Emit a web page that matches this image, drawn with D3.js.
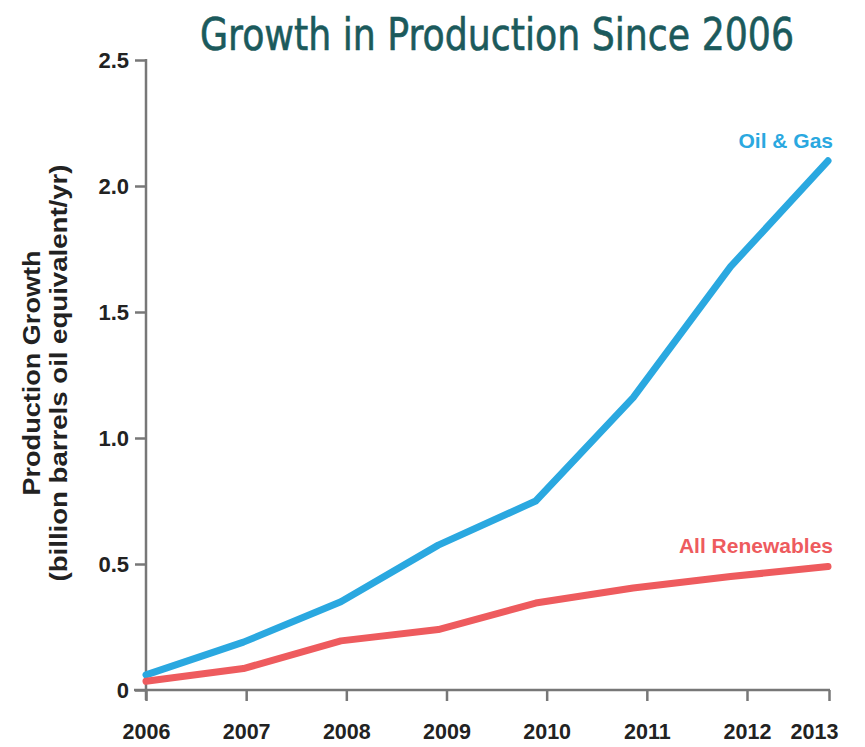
<!DOCTYPE html>
<html>
<head>
<meta charset="utf-8">
<script src="https://cdn.jsdelivr.net/npm/d3@7/dist/d3.min.js"></script>
<style>
  html, body { margin: 0; padding: 0; background: #fff; }
  svg { display: block; }
</style>
</head>
<body>
<svg id="chart" width="865" height="747"></svg>
<script>
const years = [2006, 2007, 2008, 2009, 2010, 2011, 2012, 2013];
const oilGas = [0.06, 0.19, 0.35, 0.575, 0.75, 1.16, 1.68, 2.10];
const renewables = [0.035, 0.085, 0.195, 0.24, 0.345, 0.405, 0.45, 0.49];
const yTicks = [0, 0.5, 1.0, 1.5, 2.0, 2.5];
const yTickLabels = ["0", "0.5", "1.0", "1.5", "2.0", "2.5"];
const titleText = "Growth in Production Since 2006";
const yTitle = ["Production Growth", "(billion barrels oil equivalent/yr)"];
const seriesNames = ["Oil & Gas", "All Renewables"];

const svg = d3.select("#chart");
const font = "'Liberation Sans', Arial, Helvetica, sans-serif";

// data x scale (uniform spacing) and axis tick scale (as drawn in the reference)
const xData = d3.scaleLinear().domain([2006, 2013]).range([146, 828]);
const xAxisScale = d3.scaleLinear().domain([2006, 2012, 2013]).range([146, 747, 829]);
const y = d3.scaleLinear().domain([0, 2.5]).range([690, 60]);

// Title
svg.append("text")
  .attr("x", 497).attr("y", 50)
  .attr("text-anchor", "middle")
  .attr("font-family", "'DejaVu Sans Condensed', 'Liberation Sans Narrow', sans-serif")
  .attr("font-size", 45)
  .attr("fill", "#1b5a5c")
  .attr("stroke", "#1b5a5c").attr("stroke-width", 0.6)
  .attr("textLength", 594)
  .attr("lengthAdjust", "spacingAndGlyphs")
  .text(titleText);

const axisColor = "#777";

// Y axis
const yAxis = svg.append("g")
  .attr("transform", "translate(146,0)")
  .call(d3.axisLeft(y).tickValues(yTicks).tickSize(11).tickSizeOuter(0).tickPadding(6)
    .tickFormat((d, i) => yTickLabels[i]));
yAxis.select(".domain").attr("stroke", axisColor).attr("stroke-width", 2.5)
  .attr("d", "M0,59V700");
yAxis.selectAll(".tick line").attr("stroke", axisColor).attr("stroke-width", 2.5);
yAxis.selectAll(".tick text")
  .attr("font-family", font).attr("font-weight", "bold")
  .attr("font-size", 22).attr("fill", "#222");

// X axis
const xAxis = svg.append("g")
  .attr("transform", "translate(0,690)")
  .call(d3.axisBottom(xAxisScale).tickValues(years).tickSize(11).tickSizeOuter(0).tickPadding(23)
    .tickFormat(d3.format("d")));
xAxis.select(".domain").attr("stroke", axisColor).attr("stroke-width", 2.5)
  .attr("d", "M134,0H830");
xAxis.selectAll(".tick line").attr("stroke", axisColor).attr("stroke-width", 2.5);
xAxis.selectAll(".tick text")
  .attr("font-family", font).attr("font-weight", "bold")
  .attr("font-size", 21.5).attr("fill", "#222");
xAxis.selectAll(".tick").filter(d => d === 2013).select("text").attr("dx", -15);

// Y axis title (two lines, rotated)
const yTitleLayout = [
  { text: yTitle[0], baseline: 40, length: 245 },
  { text: yTitle[1], baseline: 67, length: 417 }
];
yTitleLayout.forEach(l => {
  svg.append("text")
    .attr("transform", `translate(${l.baseline},373) rotate(-90)`)
    .attr("x", 0).attr("y", 0)
    .attr("text-anchor", "middle")
    .attr("font-family", font).attr("font-weight", "bold")
    .attr("font-size", 24).attr("fill", "#222")
    .attr("textLength", l.length)
    .attr("lengthAdjust", "spacingAndGlyphs")
    .text(l.text);
});

// Lines
const line = d3.line()
  .x((d, i) => xData(years[i]))
  .y(d => y(d))
  .curve(d3.curveLinear);

const series = [
  { name: seriesNames[0], values: oilGas, color: "#2aa8e0", labelY: 148 },
  { name: seriesNames[1], values: renewables, color: "#ee5b5e", labelY: 553 }
];

series.forEach(s => {
  svg.append("path")
    .datum(s.values)
    .attr("d", line)
    .attr("fill", "none")
    .attr("stroke", s.color)
    .attr("stroke-width", 7)
    .attr("stroke-linecap", "round")
    .attr("stroke-linejoin", "round");
  svg.append("text")
    .attr("x", 833).attr("y", s.labelY)
    .attr("text-anchor", "end")
    .attr("font-family", font).attr("font-weight", "bold")
    .attr("font-size", 21).attr("fill", s.color)
    .text(s.name);
});
</script>
</body>
</html>
